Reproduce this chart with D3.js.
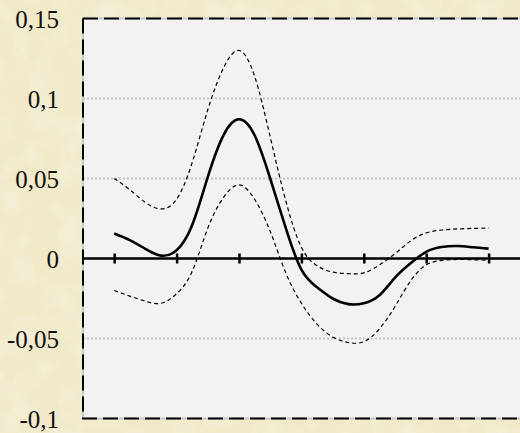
<!DOCTYPE html>
<html>
<head>
<meta charset="utf-8">
<script src="https://cdn.jsdelivr.net/npm/d3@7"></script>
<style>
  html, body { margin: 0; padding: 0; background: #efe6c3; }
  svg { display: block; }
  .ylab text { font-family: "Liberation Serif", "DejaVu Serif", serif; font-size: 25px; fill: #111; }
</style>
</head>
<body>
<div id="chart"></div>
<script>
// periods (position along the category axis, in ticks)
const steps = [0, 0.25, 0.5, 0.75, 1, 1.25, 1.5, 1.75, 2, 2.25, 2.5, 2.75, 3,
    3.25, 3.5, 3.75, 4, 4.25, 4.5, 4.75, 5, 5.25, 5.5, 5.75, 6];
// point estimate and confidence band
const estimate = [0.0156, 0.0115, 0.006, 0.0018, 0.0052, 0.021, 0.051, 0.077, 0.087, 0.077, 0.050, 0.019, -0.007,
    -0.018, -0.025, -0.0285, -0.028, -0.023, -0.012, -0.003, 0.0042, 0.0072, 0.0078, 0.007, 0.0062];
const upper = [0.05, 0.043, 0.035, 0.031, 0.037, 0.060, 0.093, 0.119, 0.130, 0.114, 0.076, 0.036, 0.007,
    -0.0045, -0.0085, -0.0095, -0.009, -0.004, 0.003, 0.011, 0.016, 0.0178, 0.0185, 0.0188, 0.019];
const lower = [-0.02, -0.0235, -0.0267, -0.028, -0.022, -0.008, 0.019, 0.038, 0.046, 0.037, 0.017, -0.009, -0.028,
    -0.041, -0.049, -0.0525, -0.052, -0.044, -0.030, -0.014, -0.004, -0.0012, -0.0006, -0.0008, -0.001];
const tickSteps = [0, 1, 2, 3, 4, 5, 6];
const yTicks = [0.15, 0.1, 0.05, 0, -0.05, -0.1];
const gridVals = [0.1, 0.05, -0.05];

const width = 520, height = 433;

const svg = d3.select('#chart')
    .append('svg')
    .attr('width', width)
    .attr('height', height);

// parchment background
const defs = svg.append('defs');
const f = defs.append('filter').attr('id', 'paper')
    .attr('x', 0).attr('y', 0).attr('width', '100%').attr('height', '100%');
f.append('feTurbulence').attr('type', 'fractalNoise')
    .attr('baseFrequency', 0.035).attr('numOctaves', 4).attr('seed', 7).attr('result', 'noise');
f.append('feColorMatrix').attr('in', 'noise').attr('type', 'matrix')
    .attr('values', '0 0 0 0 0.93  0 0 0 0 0.89  0 0 0 0 0.74  0 0 0 -1.6 1.0').attr('result', 'spots');
f.append('feComposite').attr('in', 'spots').attr('in2', 'SourceGraphic').attr('operator', 'over');

svg.append('rect').attr('width', width).attr('height', height).attr('fill', '#f1e9c7');
svg.append('rect').attr('width', width).attr('height', height).attr('fill', '#f1e9c7')
    .attr('filter', 'url(#paper)').attr('opacity', 0.9);

const x = d3.scaleLinear().domain([-0.5, 7]).range([83, 551]);
const y = d3.scaleLinear().domain([-0.1, 0.15]).range([418.5, 18.5]);

// plot area
const x0 = x(-0.5), x1 = x(7);
svg.append('rect')
    .attr('x', x0).attr('y', y(0.15))
    .attr('width', x1 - x0).attr('height', y(-0.1) - y(0.15))
    .attr('fill', '#f2f2f2');

// gridlines
svg.append('g').selectAll('line')
    .data(gridVals)
    .enter().append('line')
    .attr('x1', x0).attr('x2', x1)
    .attr('y1', d => y(d)).attr('y2', d => y(d))
    .attr('stroke', '#c4c4c4')
    .attr('stroke-width', 2)
    .attr('stroke-dasharray', '2,2');

// border: light gray underlay plus black dashes
const border = `M${x1},${y(0.15)}H${x0}V${y(-0.1)}H${x1}`;
svg.append('path').attr('d', border).attr('fill', 'none')
    .attr('stroke', '#c8c8c8').attr('stroke-width', 2);
svg.append('path').attr('d', `M${x0},${y(0.15)}H${x1}`).attr('fill', 'none')
    .attr('stroke', '#000').attr('stroke-width', 2).attr('stroke-dasharray', '15,6');
svg.append('path').attr('d', `M${x0},${y(0.15)}V${y(-0.1)}H${x1}`).attr('fill', 'none')
    .attr('stroke', '#000').attr('stroke-width', 2).attr('stroke-dasharray', '15,6');

// y labels
const locale = d3.formatLocale({decimal: ',', thousands: '.', grouping: [3], currency: ['', ''], minus: '-'});
const fmt = locale.format('~g');
const yAxis = svg.append('g')
    .attr('class', 'ylab')
    .attr('transform', `translate(${x0},0)`)
    .call(d3.axisLeft(y).tickValues(yTicks).tickSize(0).tickPadding(24).tickFormat(fmt));
yAxis.select('.domain').remove();
yAxis.selectAll('text').attr('dy', '0.34em');

// zero line with ticks
svg.append('line')
    .attr('x1', x0).attr('x2', x1)
    .attr('y1', y(0)).attr('y2', y(0))
    .attr('stroke', '#000').attr('stroke-width', 2.5);
const xAxis = svg.append('g')
    .attr('transform', `translate(0,${y(0) - 5})`)
    .call(d3.axisBottom(x).tickValues(tickSteps).tickSize(10).tickFormat(''));
xAxis.select('.domain').remove();
xAxis.selectAll('.tick line').attr('stroke', '#000').attr('stroke-width', 2.5);

// lines
const line = d3.line()
    .x((d, i) => x(steps[i]))
    .y(d => y(d))
    .curve(d3.curveNatural);

svg.append('path').datum(upper)
    .attr('d', line).attr('fill', 'none')
    .attr('stroke', '#000').attr('stroke-width', 1.2).attr('stroke-dasharray', '4,3');
svg.append('path').datum(lower)
    .attr('d', line).attr('fill', 'none')
    .attr('stroke', '#000').attr('stroke-width', 1.2).attr('stroke-dasharray', '4,3');
svg.append('path').datum(estimate)
    .attr('d', line).attr('fill', 'none')
    .attr('stroke', '#000').attr('stroke-width', 2.6);
</script>
</body>
</html>
